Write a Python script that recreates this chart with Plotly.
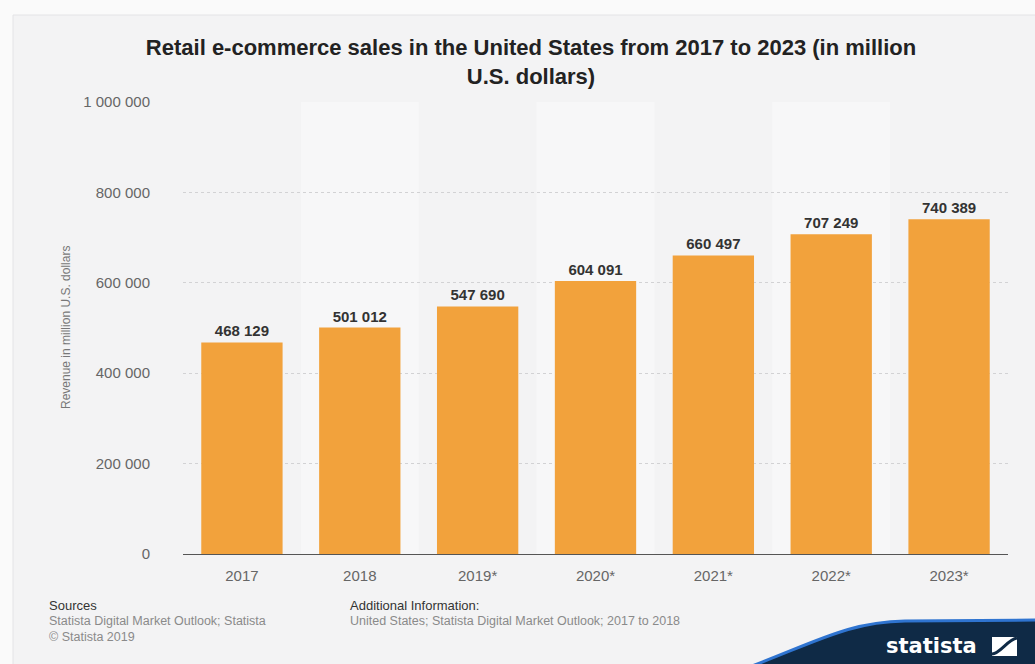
import plotly.graph_objects as go

YEARS = ["2017", "2018", "2019*", "2020*", "2021*", "2022*", "2023*"]
SALES = [468129, 501012, 547690, 604091, 660497, 707249, 740389]
Y_TICKS = [0, 200000, 400000, 600000, 800000, 1000000]

BAR_COLOR = "#f2a23c"
CARD_COLOR = "#f3f3f4"
BAND_COLOR = "#f7f7f8"
FONT = "Liberation Sans, Arial, sans-serif"

W, H = 1035, 664
L, R, T, B = 183, 27, 102, 110


def px_x(x):
    return (x - L) / (W - L - R)


def px_y(y):
    return (H - B - y) / (H - T - B)


def pt(x, y):
    return f"{px_x(x):.4f},{px_y(y):.4f}"


fig = go.Figure(
    go.Bar(
        x=YEARS,
        y=SALES,
        marker={"color": BAR_COLOR, "line": {"width": 0}},
        texttemplate="%{y:,}",
        textposition="outside",
        textfont={"family": FONT, "size": 15, "color": "#333333", "weight": "bold"},
        cliponaxis=False,
        hoverinfo="skip",
    )
)

shapes = [
    # card behind everything
    dict(type="rect", xref="paper", yref="paper",
         x0=px_x(13), x1=px_x(1040), y0=px_y(15), y1=px_y(670),
         fillcolor=CARD_COLOR, line={"color": "#e4e4e6", "width": 1}, layer="below"),
]
for i in range(1, len(YEARS), 2):
    shapes.append(dict(type="rect", xref="x", yref="paper", x0=i - 0.5, x1=i + 0.5,
                       y0=0, y1=1, fillcolor=BAND_COLOR, line={"width": 0}, layer="below"))

# statista wave in the corner
wave = (f"M {pt(752, 666)} C {pt(820, 640)} {pt(850, 622)} {pt(905, 621)} "
        f"L {pt(1040, 620)} L {pt(1040, 666)} Z")
edge = f"M {pt(752, 666)} C {pt(820, 640)} {pt(850, 622)} {pt(905, 621)} L {pt(1040, 620)}"
shapes.append(dict(type="path", xref="paper", yref="paper", path=wave,
                   fillcolor="#0f2a46", line={"width": 0}))
shapes.append(dict(type="path", xref="paper", yref="paper", path=edge,
                   line={"color": "#2f74d0", "width": 3}))
shapes.append(dict(type="rect", xref="paper", yref="paper",
                   x0=px_x(992), x1=px_x(1017), y0=px_y(656), y1=px_y(637),
                   fillcolor="white", line={"width": 0}))
shapes.append(dict(type="path", xref="paper", yref="paper",
                   path=f"M {pt(992, 654)} C {pt(1000, 654)} {pt(1008, 639)} {pt(1017, 638)}",
                   line={"color": "#0f2a46", "width": 3}))

foot_font = {"family": FONT, "size": 12.5, "color": "#8a8a8a"}
head_font = {"family": FONT, "size": 13, "color": "#333333"}
annotations = [
    dict(text="Revenue in million U.S. dollars", xref="paper", yref="paper",
         x=px_x(66), y=px_y(328), xanchor="center", yanchor="middle", textangle=-90,
         showarrow=False, font={"family": FONT, "size": 12, "color": "#777777"}),
    dict(text="Sources", xref="paper", yref="paper", x=px_x(47), y=px_y(605),
         xanchor="left", yanchor="middle", showarrow=False, font=head_font),
    dict(text="Statista Digital Market Outlook; Statista<br>© Statista 2019",
         xref="paper", yref="paper", x=px_x(47), y=px_y(612), xanchor="left", yanchor="top",
         align="left", showarrow=False, font=foot_font),
    dict(text="Additional Information:", xref="paper", yref="paper", x=px_x(348), y=px_y(605),
         xanchor="left", yanchor="middle", showarrow=False, font=head_font),
    dict(text="United States; Statista Digital Market Outlook; 2017 to 2018",
         xref="paper", yref="paper", x=px_x(348), y=px_y(612), xanchor="left", yanchor="top",
         align="left", showarrow=False, font=foot_font),
    dict(text="<b>statista</b>", xref="paper", yref="paper", x=px_x(931), y=px_y(646),
         xanchor="center", yanchor="middle", showarrow=False,
         font={"family": "DejaVu Sans, sans-serif", "size": 21, "color": "white"}),
]

fig.update_layout(
    width=W,
    height=H,
    margin={"l": L, "r": R, "t": T, "b": B},
    paper_bgcolor="#fafafa",
    plot_bgcolor="rgba(0,0,0,0)",
    separators=". ",
    bargap=0.31,
    showlegend=False,
    font={"family": FONT, "color": "#666666"},
    title={
        "text": "<b>Retail e-commerce sales in the United States from 2017 to 2023 (in million<br>U.S. dollars)</b>",
        "x": px_x(531), "xref": "paper", "xanchor": "center",
        "y": 1 - 55 / H, "yanchor": "middle",
        "font": {"family": FONT, "size": 22, "color": "#222222"},
    },
    shapes=shapes,
    annotations=annotations,
)
fig.update_xaxes(
    showgrid=False,
    showline=True,
    linecolor="#555555",
    linewidth=1,
    ticks="outside",
    ticklen=8,
    tickcolor="rgba(0,0,0,0)",
    tickfont={"family": FONT, "size": 15, "color": "#666666"},
)
fig.update_yaxes(
    range=[0, 1000000],
    tickvals=Y_TICKS,
    tickformat=",d",
    showgrid=True,
    gridcolor="#d2d2d4",
    griddash="dot",
    gridwidth=1,
    zeroline=False,
    ticks="outside",
    ticklen=29,
    tickcolor="rgba(0,0,0,0)",
    tickfont={"family": FONT, "size": 15, "color": "#666666"},
)

fig.write_html(
    "out.html",
    config={"displayModeBar": False},
    post_script="document.body.style.margin='0';",
)
